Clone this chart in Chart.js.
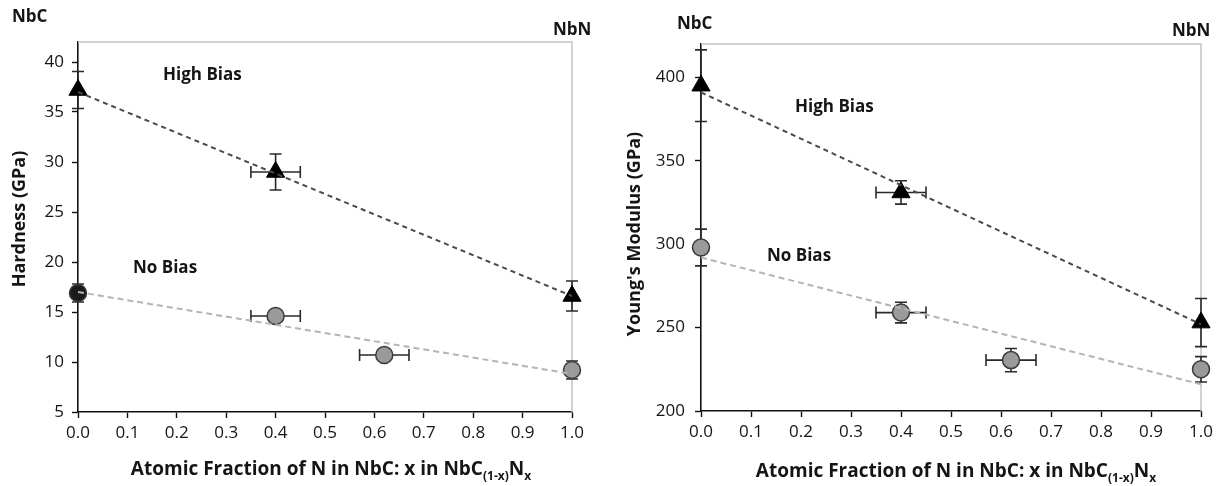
<!DOCTYPE html>
<html><head><meta charset="utf-8">
<script src="https://cdn.jsdelivr.net/npm/chart.js@4/dist/chart.umd.min.js"></script>
<style>
html,body{margin:0;padding:0;background:#fff;width:1229px;height:486px;overflow:hidden;}
.box{position:absolute;top:0;height:486px;}
</style></head>
<body>
<div class="box" style="left:0;width:610px;"><canvas id="c1"></canvas></div>
<div class="box" style="left:610px;width:619px;"><canvas id="c2"></canvas></div>
<script>
// ---------- data ----------
const xHigh = [0, 0.4, 1.0];
const xNo = [0, 0.4, 0.62, 1.0];
const xHighErr = [0, 0.05, 0];
const xNoErr = [0, 0.05, 0.05, 0];
const trendX = [0, 1.0];

const hardHigh = [37.2, 29.0, 16.6];
const hardHighErr = [1.85, 1.8, 1.5];
const hardNo = [16.9, 14.6, 10.7, 9.2];
const hardNoErr = [0.9, 0, 0, 0.9];
const hardHighTrend = [37.0, 16.6];
const hardNoTrend = [17.0, 8.8];

const modHigh = [395, 331, 253];
const modHighErr = [21.5, 7, 14.4];
const modNo = [298, 259, 230.5, 225];
const modNoErr = [11, 6.2, 7, 7.6];
const modHighTrend = [391, 252];
const modNoTrend = [292, 216];

const xTicks = [0, 0.1, 0.2, 0.3, 0.4, 0.5, 0.6, 0.7, 0.8, 0.9, 1.0];
const hardTicks = [5, 10, 15, 20, 25, 30, 35, 40];
const modTicks = [200, 250, 300, 350, 400];

const FONT = "'Open Sans', 'Liberation Sans', sans-serif";
const TXT = '#151515';

function pts(xs, ys){ return xs.map((x,i)=>({x:x, y:ys[i]})); }

// error bars + frame plugin
const errPlugin = {
  id:'errbars',
  beforeDatasetsDraw(chart, args, opts){
    const {ctx, chartArea:a, scales:{x, y}} = chart;
    ctx.save();
    ctx.strokeStyle = '#c4c4c4'; ctx.lineWidth = 1.5;
    ctx.beginPath(); ctx.moveTo(a.left, a.top); ctx.lineTo(a.right, a.top); ctx.lineTo(a.right, a.bottom); ctx.stroke();
    ctx.strokeStyle = '#2a2a2a'; ctx.lineWidth = 1.6;
    const cap = 6;
    (opts.sets||[]).forEach(s=>{
      s.x.forEach((xv,i)=>{
        const px = x.getPixelForValue(xv), py = y.getPixelForValue(s.y[i]);
        const ye = s.yerr[i], xe = s.xerr[i];
        if (ye){
          const t = y.getPixelForValue(s.y[i]+ye), b = y.getPixelForValue(s.y[i]-ye);
          ctx.beginPath();
          ctx.moveTo(px,t); ctx.lineTo(px,b);
          ctx.moveTo(px-cap,t); ctx.lineTo(px+cap,t);
          ctx.moveTo(px-cap,b); ctx.lineTo(px+cap,b);
          ctx.stroke();
        }
        if (xe){
          const l = x.getPixelForValue(xv-xe), r = x.getPixelForValue(xv+xe);
          ctx.beginPath();
          ctx.moveTo(l,py); ctx.lineTo(r,py);
          ctx.moveTo(l,py-cap); ctx.lineTo(l,py+cap);
          ctx.moveTo(r,py-cap); ctx.lineTo(r,py+cap);
          ctx.stroke();
        }
      });
    });
    ctx.restore();
  }
};

// text plugin
const textPlugin = {
  id:'texts',
  afterDraw(chart, args, opts){
    const ctx = chart.ctx;
    ctx.save();
    ctx.fillStyle = TXT;
    ctx.textBaseline = 'middle';
    (opts.labels||[]).forEach(l=>{
      ctx.font = 'bold 17px ' + FONT;
      ctx.textAlign = 'left';
      ctx.fillText(l.t, l.x, l.y);
    });
    const yt = opts.ytitle;
    ctx.save();
    ctx.translate(yt.x, yt.y); ctx.rotate(-Math.PI/2);
    ctx.font = 'bold 18px ' + FONT; ctx.textAlign = 'center';
    ctx.fillText(yt.t, 0, 0);
    ctx.restore();
    const xt = opts.xtitle;
    const parts = [
      {t:'Atomic Fraction of N in NbC: x in NbC', sub:false},
      {t:'(1-x)', sub:true},
      {t:'N', sub:false},
      {t:'x', sub:true}
    ];
    const big = 'bold 19px ' + FONT, small = 'bold 12px ' + FONT;
    let w = 0;
    parts.forEach(p=>{ ctx.font = p.sub?small:big; p.w = ctx.measureText(p.t).width; w += p.w; });
    let cx = xt.x - w/2;
    ctx.textAlign = 'left'; ctx.textBaseline = 'alphabetic';
    parts.forEach(p=>{
      ctx.font = p.sub?small:big;
      ctx.fillText(p.t, cx, xt.y + (p.sub?5:0));
      cx += p.w;
    });
    ctx.restore();
  }
};

function makeChart(id, cfg){
  const xScale = {
    type:'linear', min:0, max:1,
    afterBuildTicks: s => { s.ticks = xTicks.map(v=>({value:v})); },
    afterFit: s => { s.height = cfg.xAxisH; },
    border:{color:'#111', width:1.6},
    grid:{drawOnChartArea:false, drawTicks:true, tickLength:6, color:'#111', tickWidth:1.4},
    ticks:{color:TXT, font:{family:FONT, size:17}, padding:5, callback:v=>Number(v).toFixed(1), maxRotation:0}
  };
  const yScale = {
    type:'linear', min:cfg.ymin, max:cfg.ymax,
    afterBuildTicks: s => { s.ticks = cfg.yTicks.map(v=>({value:v})); },
    afterFit: s => { s.width = cfg.yAxisW; },
    border:{color:'#111', width:1.6},
    grid:{drawOnChartArea:false, drawTicks:true, tickLength:6, color:'#111', tickWidth:1.4},
    ticks:{color:TXT, font:{family:FONT, size:17}, padding:cfg.yPad}
  };
  return new Chart(document.getElementById(id), {
    type:'scatter',
    data:{datasets:[
      {label:'High Bias trend', type:'line', data:pts(trendX, cfg.highTrend), borderColor:'#4a4a4a', borderWidth:2, borderDash:[5,4], pointRadius:0, fill:false, clip:false},
      {label:'No Bias trend', type:'line', data:pts(trendX, cfg.noTrend), borderColor:'#b4b4b4', borderWidth:2, borderDash:[6,4], pointRadius:0, fill:false, clip:false},
      {label:'No Bias', data:pts(xNo, cfg.no), pointStyle:'circle', pointRadius:8.5, backgroundColor:cfg.noColors, borderColor:'#3a3a3a', borderWidth:1.5, clip:false},
      {label:'High Bias', data:pts(xHigh, cfg.high), pointStyle:'triangle', pointRadius:10.5, backgroundColor:'#000', borderColor:'#000', borderWidth:1, clip:false}
    ]},
    options:{
      responsive:false, animation:false, devicePixelRatio:1,
      layout:{padding:{top:cfg.padTop, right:cfg.padRight, left:0, bottom:0}},
      scales:{x:xScale, y:yScale},
      plugins:{
        legend:{display:false}, tooltip:{enabled:false},
        errbars:{sets:[
          {x:xNo, y:cfg.no, yerr:cfg.noErr, xerr:xNoErr},
          {x:xHigh, y:cfg.high, yerr:cfg.highErr, xerr:xHighErr}
        ]},
        texts:{labels:cfg.labels, ytitle:cfg.ytitle, xtitle:cfg.xtitle}
      }
    },
    plugins:[errPlugin, textPlugin]
  });
}

document.getElementById('c1').width = 610; document.getElementById('c1').height = 486;
document.getElementById('c2').width = 619; document.getElementById('c2').height = 486;

makeChart('c1', {
  ymin:5, ymax:42, yTicks:hardTicks, xAxisH:74, yAxisW:78, yPad:8, padTop:42, padRight:38,
  high:hardHigh, highErr:hardHighErr, no:hardNo, noErr:hardNoErr,
  highTrend:hardHighTrend, noTrend:hardNoTrend,
  noColors:['#1a1a1a','#9a9a9a','#9a9a9a','#9a9a9a'],
  labels:[{t:'NbC',x:12,y:17},{t:'NbN',x:553,y:30},{t:'High Bias',x:163,y:75},{t:'No Bias',x:133,y:268}],
  ytitle:{t:'Hardness (GPa)', x:20, y:219},
  xtitle:{t:'', x:331, y:475}
});
makeChart('c2', {
  ymin:200, ymax:420, yTicks:modTicks, xAxisH:75, yAxisW:91, yPad:10, padTop:44, padRight:28,
  high:modHigh, highErr:modHighErr, no:modNo, noErr:modNoErr,
  highTrend:modHighTrend, noTrend:modNoTrend,
  noColors:['#9a9a9a','#9a9a9a','#9a9a9a','#9a9a9a'],
  labels:[{t:'NbC',x:67,y:24},{t:'NbN',x:562,y:31},{t:'High Bias',x:185,y:107},{t:'No Bias',x:157,y:256}],
  ytitle:{t:"Young's Modulus (GPa)", x:25, y:234},
  xtitle:{t:'', x:346, y:477}
});
</script>
</body></html>
